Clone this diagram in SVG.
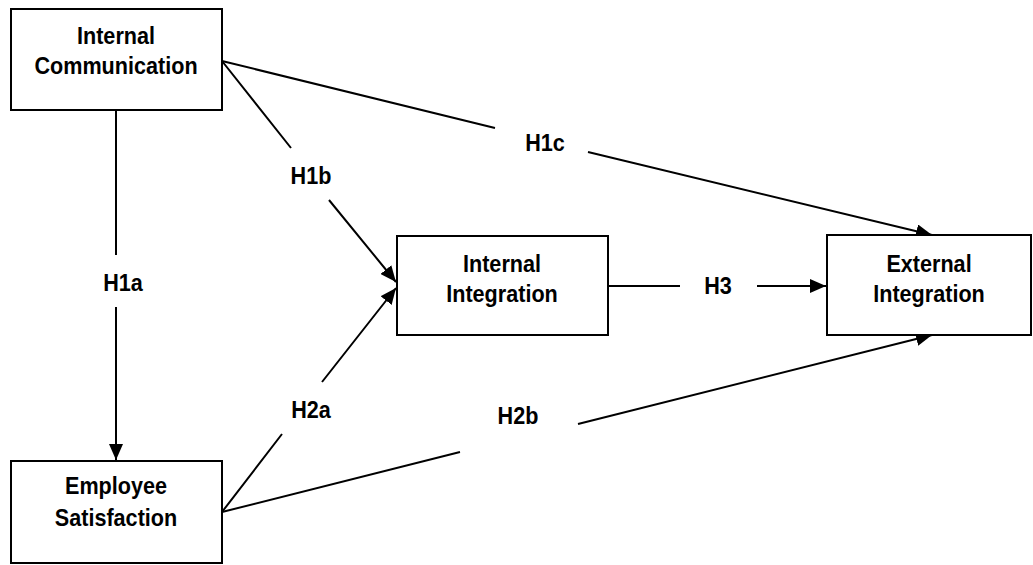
<svg xmlns="http://www.w3.org/2000/svg" width="1033" height="565" viewBox="0 0 1033 565">
<style>
.box{fill:#fff;stroke:#000;stroke-width:2}
.t{font-family:"Liberation Sans",Arial,sans-serif;font-weight:bold;font-size:23.5px;fill:#000;text-anchor:middle}
.l{font-family:"Liberation Sans",Arial,sans-serif;font-weight:bold;font-size:24px;fill:#000;text-anchor:middle}
.c{fill:none;stroke:#000;stroke-width:2}
</style>
<defs>
<marker id="ah" markerUnits="userSpaceOnUse" markerWidth="18" markerHeight="14" refX="16" refY="7" orient="auto">
<path d="M0,0 L16,7 L0,14 z" fill="#000"/>
</marker>
</defs>
<g id="connectors">
<path class="c" d="M116,110 L116,255 M116,307 L116,460" marker-end="url(#ah)"/>
<path class="c" d="M222,61 L291,148 M329,200 L396,282" marker-end="url(#ah)"/>
<path class="c" d="M222,61 L495,128 M588,152 L932,235" marker-end="url(#ah)"/>
<path class="c" d="M222,512 L282,434 M322,382 L396,288" marker-end="url(#ah)"/>
<path class="c" d="M222,512 L460,452 M578,424 L932,335" marker-end="url(#ah)"/>
<path class="c" d="M608,286 L680,286 M757,286 L826,286" marker-end="url(#ah)"/>
</g>
<g id="internal-communication">
<rect class="box" x="11" y="9" width="211" height="101"/>
<text class="t" transform="translate(116,44) scale(0.92,1)">Internal</text>
<text class="t" transform="translate(116,74) scale(0.92,1)">Communication</text>
</g>
<g id="employee-satisfaction">
<rect class="box" x="11" y="461" width="211" height="102"/>
<text class="t" transform="translate(116,494) scale(0.92,1)">Employee</text>
<text class="t" transform="translate(116,526) scale(0.92,1)">Satisfaction</text>
</g>
<g id="internal-integration">
<rect class="box" x="397" y="236" width="211" height="99"/>
<text class="t" transform="translate(502,272) scale(0.92,1)">Internal</text>
<text class="t" transform="translate(502,302) scale(0.92,1)">Integration</text>
</g>
<g id="external-integration">
<rect class="box" x="827" y="235" width="204" height="100"/>
<text class="t" transform="translate(929,272) scale(0.92,1)">External</text>
<text class="t" transform="translate(929,302) scale(0.92,1)">Integration</text>
</g>
<g id="labels">
<text class="l" transform="translate(123,291) scale(0.9,1)">H1a</text>
<text class="l" transform="translate(311,184) scale(0.9,1)">H1b</text>
<text class="l" transform="translate(545,151) scale(0.9,1)">H1c</text>
<text class="l" transform="translate(311,418) scale(0.9,1)">H2a</text>
<text class="l" transform="translate(518,424) scale(0.9,1)">H2b</text>
<text class="l" transform="translate(718,294) scale(0.9,1)">H3</text>
</g>
</svg>
